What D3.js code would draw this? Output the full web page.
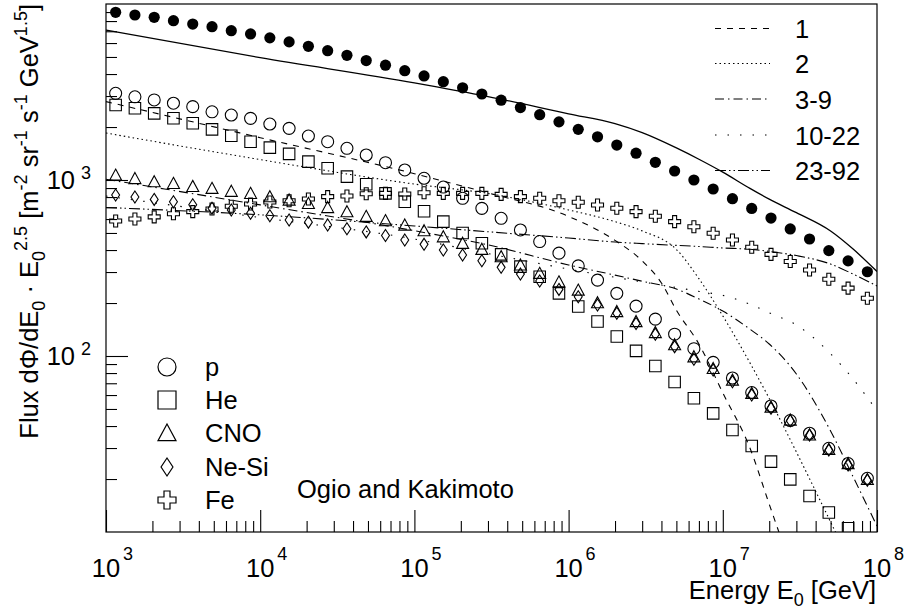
<!DOCTYPE html>
<html><head><meta charset="utf-8">
<script src="https://cdn.jsdelivr.net/npm/d3@7"></script>
<style>body{margin:0;background:#fff} text{font-family:"Liberation Sans",Arial,sans-serif;fill:#000}</style>
</head><body><svg id="c" width="907" height="614"></svg>
<script>
// ---------- data (GeV, flux*E^2.5) ----------
const energies = [1.155e3,1.540e3,2.054e3,2.738e3,3.652e3,4.870e3,6.494e3,8.660e3,
  1.155e4,1.540e4,2.054e4,2.738e4,3.652e4,4.870e4,6.494e4,8.660e4,
  1.155e5,1.540e5,2.054e5,2.738e5,3.652e5,4.870e5,6.494e5,8.660e5,
  1.155e6,1.540e6,2.054e6,2.738e6,3.652e6,4.870e6,6.494e6,8.660e6,
  1.155e7,1.540e7,2.054e7,2.738e7,3.652e7,4.870e7,6.494e7,8.660e7];
const allParticle = [8970,8660,8400,8040,7690,7430,7050,6760,6420,6090,5750,5430,5110,4770,4490,4180,3900,3620,3340,3080,2840,2580,2350,2140,1940,1760,1580,1420,1260,1125,1000,889,783,689,608,527,462,397,347,301];
const proton = [3110,2970,2850,2730,2610,2440,2340,2240,2080,1966,1778,1650,1514,1387,1254,1140,1023,912,787,690,606,520,447,384,325,270,227,192,162,133,110,92,75,62,52,43,36.4,29.9,24.5,20.2];
const helium = [2670,2555,2390,2243,2100,1940,1785,1650,1527,1407,1271,1166,1045,946,840,753,665,580,500,437,378,322,282,227,191,157,129,107,87.7,71.1,57.5,47.2,38.0,30.8,25.1,19.9,16.0,12.9,10.5,null];
const cno = [1067,1020,978,957,920,897,863,840,804,770,737,698,661,622,588,555,515,476,437,404,367,329,295,264,237,201,179,157,136,116,99,85,73,61.4,51.3,43.3,35.6,29.5,24.5,19.9];
const neSi = [822,800,776,753,724,691,676,647,627,593,576,555,528,507,484,456,431,400,375,348,319,292,267,239,217,195,175,153,133,113,95.8,83.2,71.4,60.0,50.5,42.9,35.6,29.2,24.0,19.7];
const iron = [585,600,617,643,661,684,709,731,750,762,780,804,811,836,840,832,847,840,840,840,829,804,787,763,747,721,691,661,622,580,543,498,456,415,378,344,308,273,243,213];

// model lines
const pLineE  = [1e3,1e4,1e5,3e5,1e6,2e6,3e6,4e6,5e6,7e6,1e7,1.5e7,2e7,2.5e7];
const pLine   = [2790,1740,1086,844,621,454,347,260,182,117,61.7,30.0,14.4,8.2];
const heLineE = [1e3,1e4,1e5,3e5,1e6,2e6,3e6,5e6,7e6,1e7,1.5e7,2e7,3e7,5e7,5.5e7];
const heLine  = [1849,1306,948,838,676,580,514,403,275,169,91.4,57.4,28.5,11.4,9.6];
const lineE   = [1e3,1e4,1e5,3e5,1e6,2e6,3e6,5e6,7e6,1e7,1.5e7,2e7,3e7,5e7,7e7,1e8];
const cnoLine  = [1010,722,515,428,329,288,266,240,211,180,142,117,79,37.5,20.6,10.8];
const neSiLine = [811,612,462,382,312,280,264,245,233,221,197,176,150,103,74,48.8];
const feLine   = [698,634,548,508,468,444,435,425,419,411,404,393,372,333,292,250];
const sumLine  = [7110,4955,3565,2980,2376,2089,1857,1521,1312,1108,896,778,652,513,405,302];

const markerLabels = ["p","He","CNO","Ne-Si","Fe"];
const lineLabels = ["1","2","3-9","10-22","23-92"];
const xTickExp = ["3","4","5","6","7","8"];
const yTickExp = ["2","3"];

// ---------- setup ----------
const svg = d3.select("#c");
const L=106,R=877,T=4,B=532;
const x = d3.scaleLog().domain([1e3,1e8]).range([L,R]);
const y = d3.scaleLog().domain([10,1e4]).range([B,T]);
const FS = 25.5, SFS = 18;

svg.append("defs").append("clipPath").attr("id","clip")
  .append("rect").attr("x",L).attr("y",T).attr("width",R-L).attr("height",B-T);

// axes ticks (inside)
const xMajor = [1e3,1e4,1e5,1e6,1e7,1e8];
const xMinor = x.ticks().filter(v => !xMajor.some(m => Math.abs(m-v)/m < 1e-9));
const yMajor = [1e2,1e3];
const yMinor = y.ticks().filter(v => ![10,100,1000,10000].some(m => Math.abs(m-v)/m < 1e-9));

function styleAxis(g){ g.select(".domain").remove(); g.selectAll("line").attr("stroke","#000").attr("stroke-width",1.1); g.selectAll("text").remove(); }
svg.append("g").attr("transform",`translate(0,${B})`).call(d3.axisBottom(x).tickValues(xMajor).tickSize(-22).tickFormat("")).call(styleAxis);
svg.append("g").attr("transform",`translate(0,${B})`).call(d3.axisBottom(x).tickValues(xMinor).tickSize(-11).tickFormat("")).call(styleAxis);
svg.append("g").attr("transform",`translate(${L},0)`).call(d3.axisLeft(y).tickValues(yMajor).tickSize(-22).tickFormat("")).call(styleAxis);
svg.append("g").attr("transform",`translate(${L},0)`).call(d3.axisLeft(y).tickValues(yMinor).tickSize(-11).tickFormat("")).call(styleAxis);

// frame
svg.append("rect").attr("x",L).attr("y",T).attr("width",R-L).attr("height",B-T)
  .attr("fill","none").attr("stroke","#000").attr("stroke-width",1.2);

// tick labels
xMajor.forEach((v,i)=>{
  const px = x(v);
  svg.append("text").attr("x",px).attr("y",577).attr("text-anchor","middle").attr("font-size",FS).text("10");
  svg.append("text").attr("x",px+17).attr("y",560).attr("font-size",SFS).text(xTickExp[i]);
});
yMajor.forEach((v,i)=>{
  const py = y(v);
  svg.append("text").attr("x",75).attr("y",py+9).attr("text-anchor","end").attr("font-size",FS).text("10");
  svg.append("text").attr("x",81).attr("y",py-1.5).attr("font-size",SFS).text(yTickExp[i]);
});

// axis titles
const xt = svg.append("text").attr("x",876).attr("y",599).attr("text-anchor","end").attr("font-size",FS);
xt.append("tspan").text("Energy E");
xt.append("tspan").attr("font-size",SFS).attr("dy",7).text("0");
xt.append("tspan").attr("dy",-7).text(" [GeV]");

const yt = svg.append("text").attr("transform","translate(37.5,4) rotate(-90)").attr("text-anchor","end").attr("font-size",FS);
const parts = [["Flux d\u03A6/dE",0],["0",1],[" \u00B7 E",0],["0",1],["2.5",2],[" [m",0],["-2",2],[" sr",0],["-1",2],[" s",0],["-1",2],[" GeV",0],["1.5",2],["]",0]];
let cur = 0;
parts.forEach(([t,k])=>{
  const target = k===1 ? 7 : (k===2 ? -11 : 0);
  yt.append("tspan").attr("dy",target-cur).attr("font-size",k?SFS:FS).text(t);
  cur = target;
});

// ---------- plot ----------
const plot = svg.append("g").attr("clip-path","url(#clip)");
const lineGen = d3.line().x(d=>x(d[0])).y(d=>y(d[1])).curve(d3.curveMonotoneX);
const zip = (E,F)=>E.map((e,i)=>[e,F[i]]);
const lineStyles = [
  {E:pLineE, F:pLine, dash:"6,6"},
  {E:heLineE,F:heLine,dash:"1.5,3"},
  {E:lineE,  F:cnoLine,dash:"9,4,1.5,4"},
  {E:lineE,  F:neSiLine,dash:"1.5,11"},
  {E:lineE,  F:feLine,dash:"11,3,1.5,3,1.5,3"},
];
plot.append("path").attr("d",lineGen(zip(lineE,sumLine))).attr("fill","none").attr("stroke","#000").attr("stroke-width",1.3);
lineStyles.forEach(s=>{
  plot.append("path").attr("d",lineGen(zip(s.E,s.F))).attr("fill","none").attr("stroke","#000")
    .attr("stroke-width",1.1).attr("stroke-dasharray",s.dash);
});

function markerPath(kind, s){
  const h = s/2;
  if(kind==="square") return `M${-h},${-h}H${h}V${h}H${-h}Z`;
  if(kind==="triangle") return `M0,${-h}L${h},${h*0.85}L${-h},${h*0.85}Z`;
  if(kind==="diamond") return `M0,${-h}L${h*0.66},0L0,${h}L${-h*0.66},0Z`;
  if(kind==="cross"){ const a=s/6; return `M${-a},${-h}H${a}V${-a}H${h}V${a}H${a}V${h}H${-a}V${a}H${-h}V${-a}H${-a}Z`; }
  return "";
}
function drawMarkers(g, vals, kind, s){
  const pts = energies.map((e,i)=>[e,vals[i]]).filter(d=>d[1]!=null);
  if(kind==="circle"){
    g.selectAll(null).data(pts).enter().append("circle").attr("cx",d=>x(d[0])).attr("cy",d=>y(d[1]))
      .attr("r",s/2).attr("fill","none").attr("stroke","#000").attr("stroke-width",1.1);
  } else {
    g.selectAll(null).data(pts).enter().append("path").attr("d",markerPath(kind,s))
      .attr("transform",d=>`translate(${x(d[0])},${y(d[1])})`)
      .attr("fill","none").attr("stroke","#000").attr("stroke-width",1.1);
  }
}
drawMarkers(plot, iron, "cross", 12);
drawMarkers(plot, neSi, "diamond", 12);
drawMarkers(plot, cno, "triangle", 12);
drawMarkers(plot, helium, "square", 11.5);
drawMarkers(plot, proton, "circle", 12);
plot.selectAll(null).data(energies.map((e,i)=>[e,allParticle[i]])).enter().append("circle")
  .attr("cx",d=>x(d[0])).attr("cy",d=>y(d[1])).attr("r",5.6).attr("fill","#000");

// ---------- legends ----------
const legKinds = ["circle","square","triangle","diamond","cross"];
const legY = [367,400,433,467,500];
markerLabels.forEach((lab,i)=>{
  const cy = legY[i], cx = 167;
  if(legKinds[i]==="circle") svg.append("circle").attr("cx",cx).attr("cy",cy).attr("r",9).attr("fill","none").attr("stroke","#000").attr("stroke-width",1.2);
  else svg.append("path").attr("d",markerPath(legKinds[i],18)).attr("transform",`translate(${cx},${cy})`).attr("fill","none").attr("stroke","#000").attr("stroke-width",1.2);
  svg.append("text").attr("x",205).attr("y",cy+9).attr("font-size",FS).text(lab);
});
const legLY = [28.5,63.5,99,135,170.5];
lineLabels.forEach((lab,i)=>{
  svg.append("line").attr("x1",715).attr("x2",770).attr("y1",legLY[i]).attr("y2",legLY[i])
    .attr("stroke","#000").attr("stroke-width",1.1).attr("stroke-dasharray",lineStyles[i].dash);
  svg.append("text").attr("x",795).attr("y",legLY[i]+9.5).attr("font-size",FS).text(lab);
});
svg.append("text").attr("x",297).attr("y",498).attr("font-size",FS).text("Ogio and Kakimoto");
</script></body></html>
